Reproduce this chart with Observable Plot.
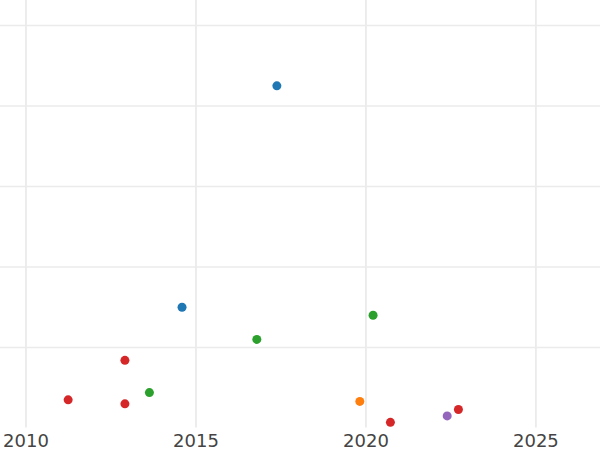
<!DOCTYPE html>
<html>
<head>
<meta charset="utf-8">
<script src="https://cdn.jsdelivr.net/npm/d3@7"></script>
<script src="https://cdn.jsdelivr.net/npm/@observablehq/plot@0.6"></script>
<style>
  html, body { margin: 0; padding: 0; background: #fff; }
</style>
</head>
<body>
<div id="chart"></div>
<script>
// Data
const years  = [2017.38, 2014.59, 2020.21, 2016.79, 2012.91, 2013.63, 2011.24, 2012.91, 2019.82, 2020.72, 2022.39, 2022.72];
const values = [4.25,    1.50,    1.40,    1.10,    0.84,    0.44,    0.35,    0.30,    0.33,    0.07,    0.15,    0.23];
const groups = ["A",     "A",     "C",     "C",     "D",     "C",     "D",     "D",     "B",     "D",     "E",     "D"];
const groupNames = ["A", "B", "C", "D", "E"];
const groupColors = ["#1f77b4", "#ff7f0e", "#2ca02c", "#d62728", "#9467bd"];
const xTicks = [2010, 2015, 2020, 2025];
const yGrid = [1, 2, 3, 4, 5];

const data = years.map((x, i) => ({x, y: values[i], g: groups[i]}));

const chart = Plot.plot({
  width: 600,
  height: 450,
  marginLeft: 0,
  marginRight: 0,
  marginTop: 0,
  marginBottom: 22.5,
  style: {fontFamily: "DejaVu Sans", background: "#fff"},
  x: {domain: [2009.25, 2026.9]},
  y: {domain: [0, 5.31], axis: null},
  color: {domain: groupNames, range: groupColors},
  marks: [
    Plot.ruleY(yGrid, {stroke: "#ebebeb", strokeWidth: 1.5}),
    Plot.ruleX(xTicks, {stroke: "#ebebeb", strokeWidth: 1.8, y1: 0, y2: 5.31}),
    Plot.axisX({ticks: xTicks, tickFormat: "d", tickSize: 0, tickPadding: 6, fontSize: 18, fill: "#444", label: null}),
    Plot.dot(data, {x: "x", y: "y", fill: "g", r: 4.5, stroke: null})
  ]
});
document.getElementById("chart").appendChild(chart);
</script>
</body>
</html>
